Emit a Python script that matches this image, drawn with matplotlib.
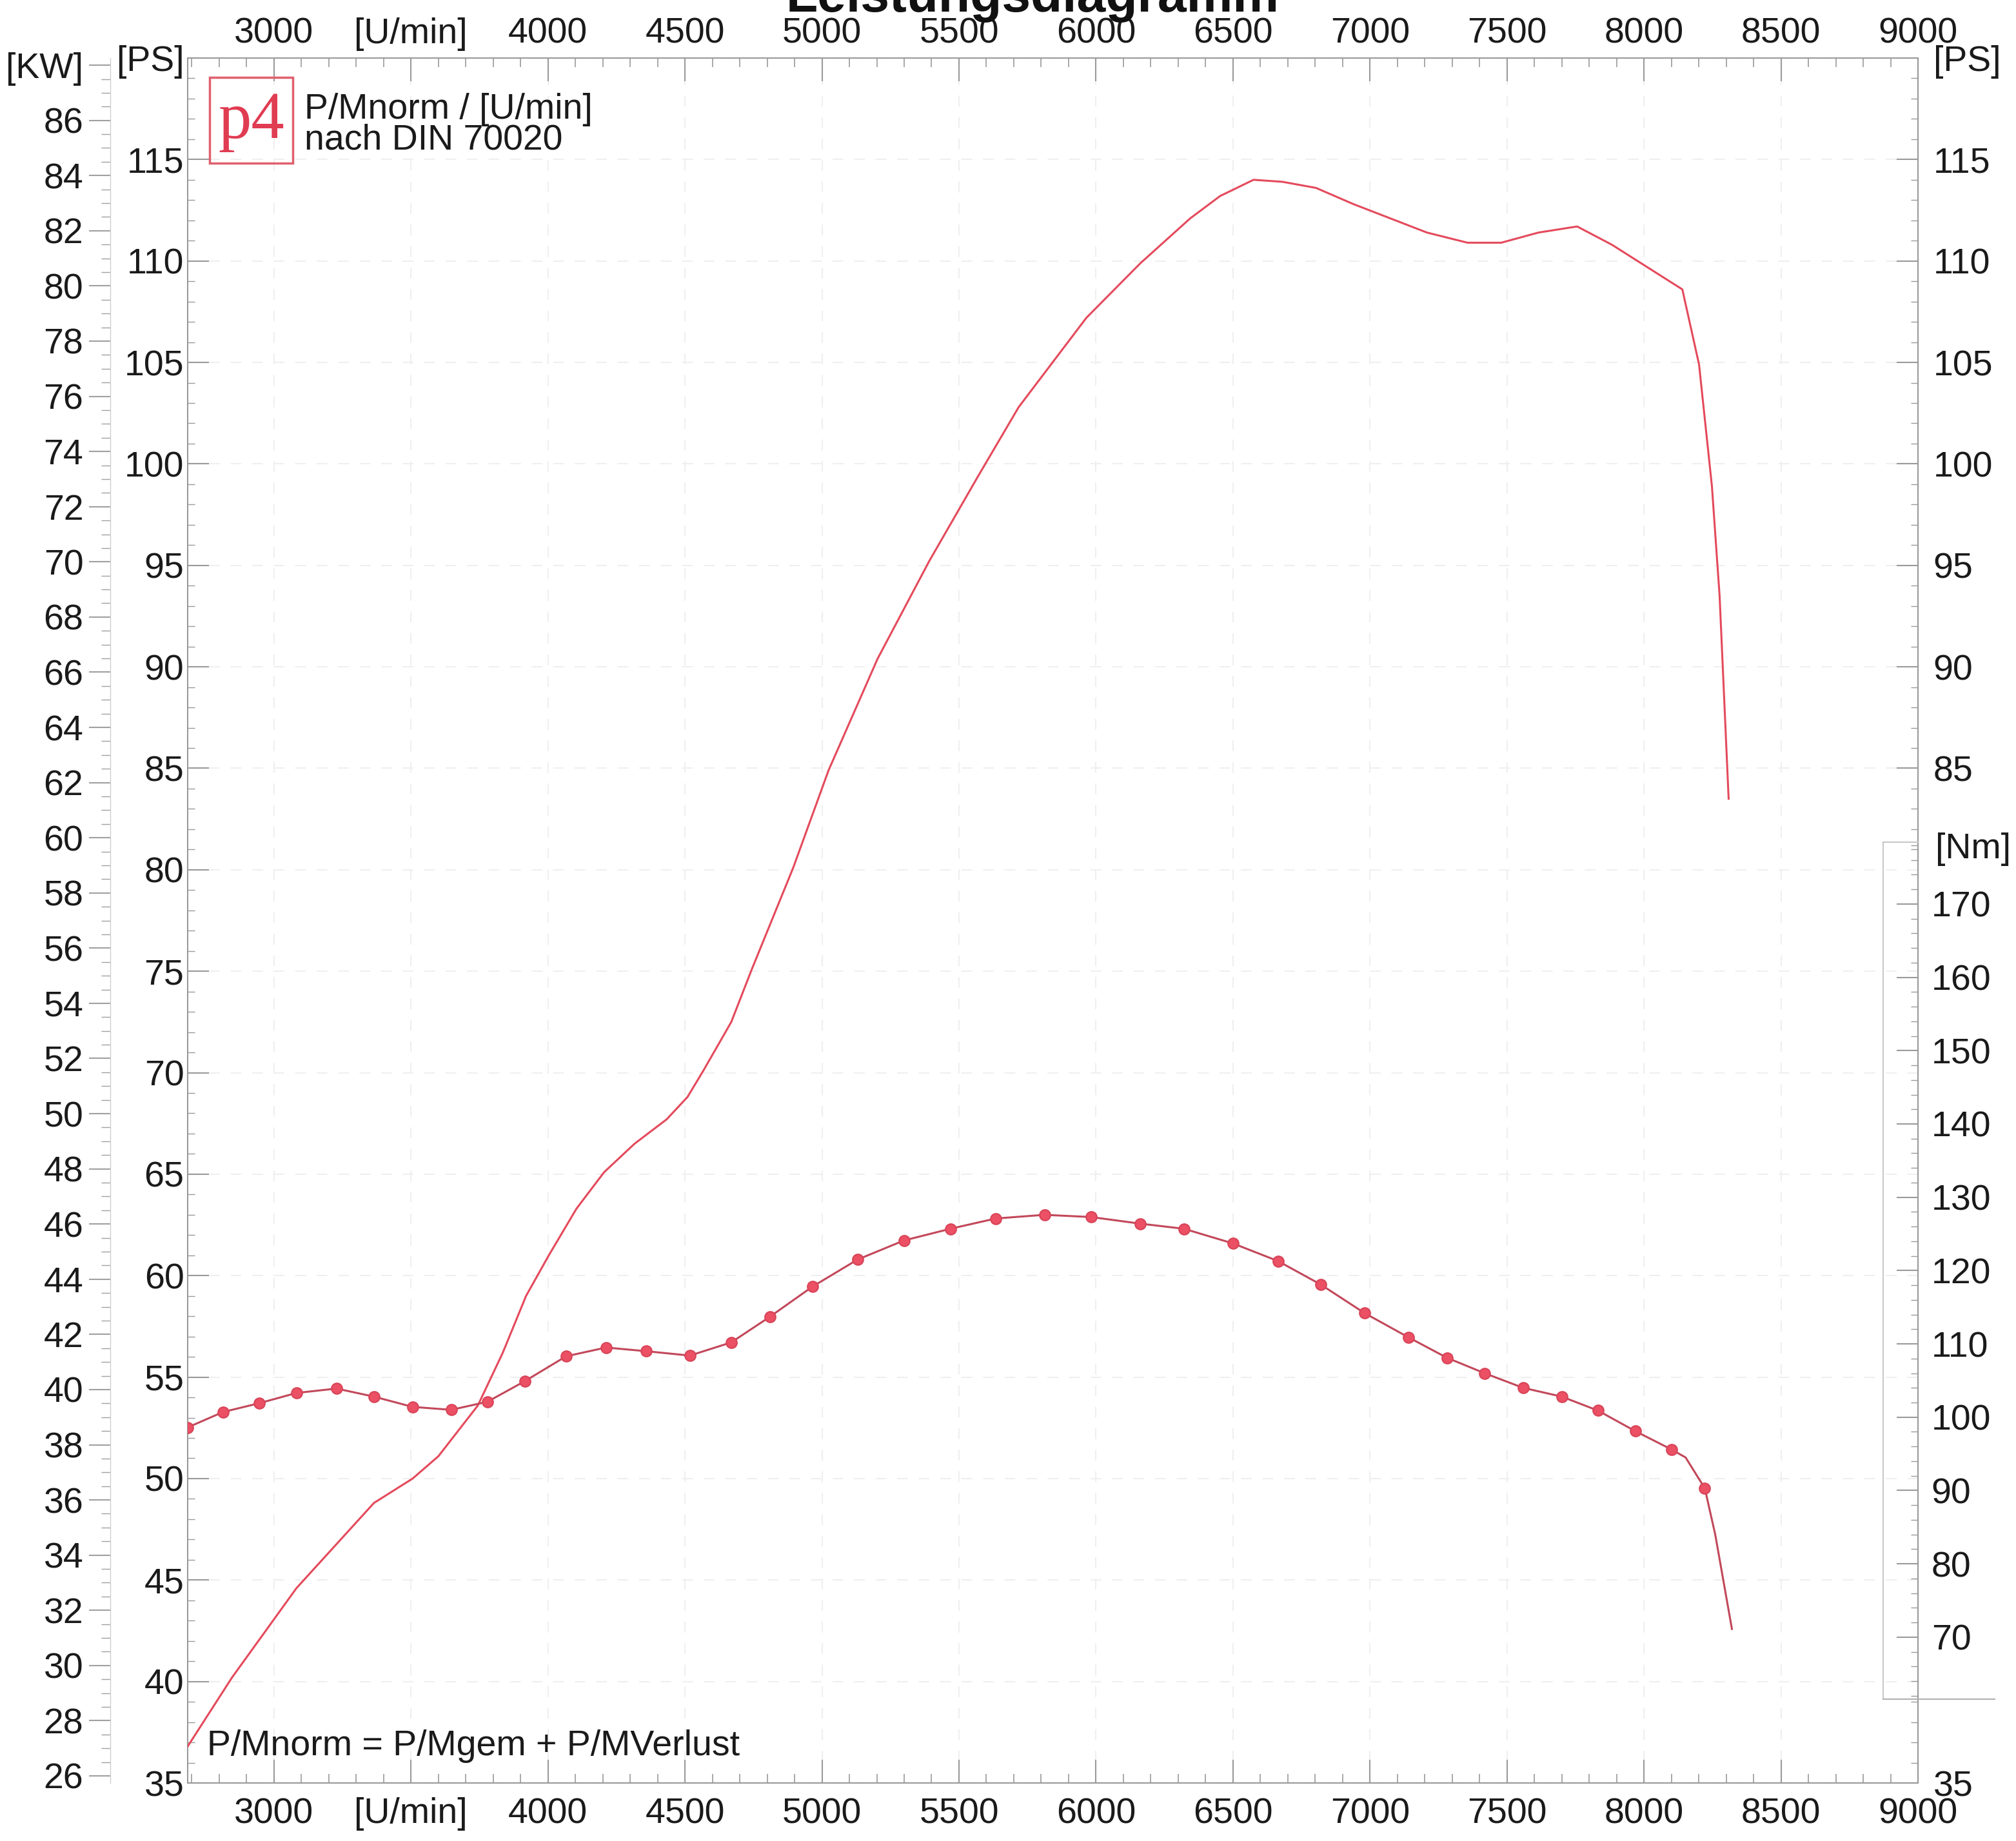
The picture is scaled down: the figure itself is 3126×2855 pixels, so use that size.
import matplotlib
matplotlib.use("Agg")
import matplotlib.pyplot as plt
from matplotlib.ticker import FixedLocator, MultipleLocator, FuncFormatter
from matplotlib.transforms import blended_transform_factory
from matplotlib.patches import Rectangle

plt.rcParams['font.family'] = ['Liberation Sans', 'DejaVu Sans']

# power curve P/Mnorm in PS over engine speed
power_rpm = [2685, 2847, 3082, 3365, 3506, 3600, 3744, 3835, 3920, 4003,
             4104, 4205, 4316, 4433, 4509, 4567, 4669, 4744, 4895, 5024,
             5203, 5391, 5570, 5718, 5965, 6163, 6344, 6453, 6575, 6681,
             6803, 6940, 7074, 7208, 7356, 7479, 7615, 7756, 7883, 8140,
             8201, 8248, 8276, 8309]
power_ps = [36.8, 40.2, 44.6, 48.8, 50.0, 51.1, 53.6, 56.2, 59.0, 61.0,
            63.3, 65.1, 66.5, 67.7, 68.8, 70.1, 72.5, 75.1, 80.1, 84.9,
            90.4, 95.2, 99.4, 102.8, 107.2, 109.9, 112.1, 113.2, 114.0, 113.9,
            113.6, 112.8, 112.1, 111.4, 110.9, 110.9, 111.4, 111.7, 110.8, 108.6,
            104.9, 98.9, 93.5, 83.5]

# torque curve in Nm (measured points carry a marker, last points are line only)
torque_rpm = [2685, 2814, 2946, 3082, 3228, 3365, 3506, 3647, 3779, 3915,
              4066, 4212, 4358, 4518, 4669, 4810, 4965, 5130, 5299, 5469,
              5634, 5812, 5982, 6161, 6321, 6500, 6664, 6820, 6980, 7140,
              7281, 7418, 7559, 7700, 7832, 7968, 8100, 8152, 8222, 8260, 8321]
torque_nm = [98.6, 100.7, 101.9, 103.3, 103.9, 102.8, 101.4, 101.0, 102.1, 104.9,
             108.3, 109.5, 109.0, 108.4, 110.2, 113.7, 117.8, 121.5, 124.1, 125.7,
             127.1, 127.6, 127.3, 126.4, 125.7, 123.7, 121.3, 118.1, 114.2, 110.9,
             108.1, 106.0, 104.0, 102.8, 100.9, 98.1, 95.6, 94.5, 90.3, 84.0, 71.1]
torque_marked = list(range(37)) + [38]

rpm_ticks = [3000, 3500, 4000, 4500, 5000, 5500, 6000, 6500, 7000, 7500, 8000, 8500, 9000]
rpm_labels = ['3000', '[U/min]', '4000', '4500', '5000', '5500', '6000',
              '6500', '7000', '7500', '8000', '8500', '9000']
ps_ticks_left = [35, 40, 45, 50, 55, 60, 65, 70, 75, 80, 85, 90, 95, 100, 105, 110, 115, 120]
ps_ticks_right = [35, 85, 90, 95, 100, 105, 110, 115, 120]
kw_ticks = list(range(26, 89, 2))
nm_ticks = [70, 80, 90, 100, 110, 120, 130, 140, 150, 160, 170]

RED = '#e44a5c'
FS = 40
PS_TO_KW = 0.73549875

W, H = 3126, 2855
fig = plt.figure(figsize=(W / 100, H / 100), dpi=100)
x0, x1, y0, y1 = 291, 2974, 90, 2765
ax = fig.add_axes([x0 / W, 1 - y1 / H, (x1 - x0) / W, (y1 - y0) / H])
ax.set_xlim(2685, 9000)
ax.set_ylim(35, 120)

for s in ax.spines.values():
    s.set_color('#9a9a9a')
    s.set_linewidth(1.5)

ax.grid(True, which='major', color='#efefef', lw=1.5, ls=(0, (8, 8)))

# x axis, bottom labels on the main axes, ticks on both sides
ax.set_xticks(rpm_ticks, rpm_labels)
ax.xaxis.set_minor_locator(MultipleLocator(100))
ax.tick_params(axis='x', which='both', direction='in', top=True, labeltop=False,
               labelsize=FS, colors='#9a9a9a', labelcolor='#1a1a1a')
ax.tick_params(axis='x', which='major', length=26, width=1.5, pad=16)
ax.tick_params(axis='x', which='minor', length=10, width=1.2)

# top labels sit closer to the frame
top = ax.secondary_xaxis('top')
top.set_xticks(rpm_ticks, rpm_labels)
top.tick_params(which='both', length=0, labelsize=FS, labelcolor='#1a1a1a', pad=8)
top.spines['top'].set_visible(False)

# left PS axis
ax.yaxis.set_major_locator(FixedLocator(ps_ticks_left))
ax.yaxis.set_major_formatter(FuncFormatter(lambda v, p: '[PS]' if v == 120 else f'{v:.0f}'))
ax.yaxis.set_minor_locator(MultipleLocator(1))
ax.tick_params(axis='y', which='both', direction='in', left=True, right=False,
               labelsize=FS, colors='#9a9a9a', labelcolor='#1a1a1a', pad=4)
ax.tick_params(axis='y', which='major', length=24, width=1.5)
ax.tick_params(axis='y', which='minor', length=8, width=1.0)

# kW axis on the far left
kw = ax.secondary_yaxis(-(x0 - 171) / (x1 - x0),
                        functions=(lambda p: p * PS_TO_KW, lambda k: k / PS_TO_KW))
kw.yaxis.set_major_locator(FixedLocator(kw_ticks))
kw.yaxis.set_major_formatter(FuncFormatter(lambda v, p: '[KW]' if round(v) == 88 else f'{v:.0f}'))
kw.yaxis.set_minor_locator(MultipleLocator(0.5))
kw.tick_params(which='both', direction='out', labelsize=FS, colors='#a0a0a0',
               labelcolor='#1a1a1a')
kw.tick_params(which='major', length=24, width=1.5, pad=6)
kw.tick_params(which='minor', length=10, width=1.0)
kw.spines['left'].set_color('#d0d0d0')
kw.spines['left'].set_linewidth(1.0)

# right PS axis
axr = ax.twinx()
axr.set_ylim(35, 120)
axr.yaxis.set_major_locator(FixedLocator(ps_ticks_right))
axr.yaxis.set_major_formatter(FuncFormatter(lambda v, p: '[PS]' if v == 120 else f'{v:.0f}'))
axr.yaxis.set_minor_locator(FixedLocator([36, 37, 38, 39] + list(range(81, 120))))
axr.tick_params(which='both', direction='in', labelsize=FS, colors='#9a9a9a',
                labelcolor='#1a1a1a', pad=17)
axr.tick_params(which='major', length=24, width=1.5)
axr.tick_params(which='minor', length=8, width=1.0)
for s in axr.spines.values():
    s.set_visible(False)

# torque axis (Nm) on the right
axn = ax.twinx()
axn.set_ylim(50.1, 285.4)
axn.yaxis.set_major_locator(FixedLocator(nm_ticks))
axn.yaxis.set_minor_locator(FixedLocator(list(range(62, 179, 2))))
axn.tick_params(which='both', direction='in', labelsize=FS, colors='#9a9a9a',
                labelcolor='#1a1a1a', pad=15)
axn.tick_params(which='major', length=24, width=1.5)
axn.tick_params(which='minor', length=8, width=1.0)
for s in axn.spines.values():
    s.set_visible(False)

tr = blended_transform_factory(axn.transAxes, axn.transData)
bx = (2920 - x0) / (x1 - x0)
axn.plot([bx, bx], [61.5, 178.4], transform=tr, color='#c8c8c8', lw=1.5, clip_on=False)
axn.plot([bx, 1.0], [178.4, 178.4], transform=tr, color='#c8c8c8', lw=1.5, clip_on=False)
axn.plot([bx, (3093 - x0) / (x1 - x0)], [61.5, 61.5], transform=tr, color='#b0b0b0',
         lw=1.5, clip_on=False)
axn.text(1.01, 177.5, '[Nm]', transform=tr, fontsize=FS, va='center', ha='left',
         color='#1a1a1a')

# curves
ax.plot(power_rpm, power_ps, color=RED, lw=2.2, zorder=3)
axn.plot(torque_rpm, torque_nm, color='#c2485a', lw=2.2, marker='o', markersize=12,
         markerfacecolor='#eb5064', markeredgecolor='#d84458', markeredgewidth=1.5,
         markevery=torque_marked, zorder=4)

# texts
fig.text(1601 / W, 1 - 18 / H, 'Leistungsdiagramm', fontsize=58, fontweight='bold',
         ha='center', va='baseline', color='#111111')
fig.text(472 / W, 1 - 170 / H, 'P/Mnorm / [U/min]', fontsize=FS, ha='left',
         va='center', color='#1a1a1a')
fig.text(472 / W, 1 - 218 / H, 'nach DIN 70020', fontsize=FS, ha='left',
         va='center', color='#1a1a1a')
fig.text(321 / W, 1 - 2708 / H, 'P/Mnorm = P/Mgem + P/MVerlust', fontsize=FS,
         ha='left', va='center', color='#1a1a1a')

# p4 logo box
fig.patches.append(Rectangle((325 / W, 1 - 253 / H), 129 / W, 133 / H,
                             transform=fig.transFigure, fill=False,
                             edgecolor='#e0606e', lw=2.5))
fig.text(390 / W, 1 - 214 / H, 'p4', fontsize=74, ha='center', va='baseline',
         color='#e03c52', family=['Liberation Serif', 'DejaVu Serif'])

fig.savefig('out.png', dpi=100)
